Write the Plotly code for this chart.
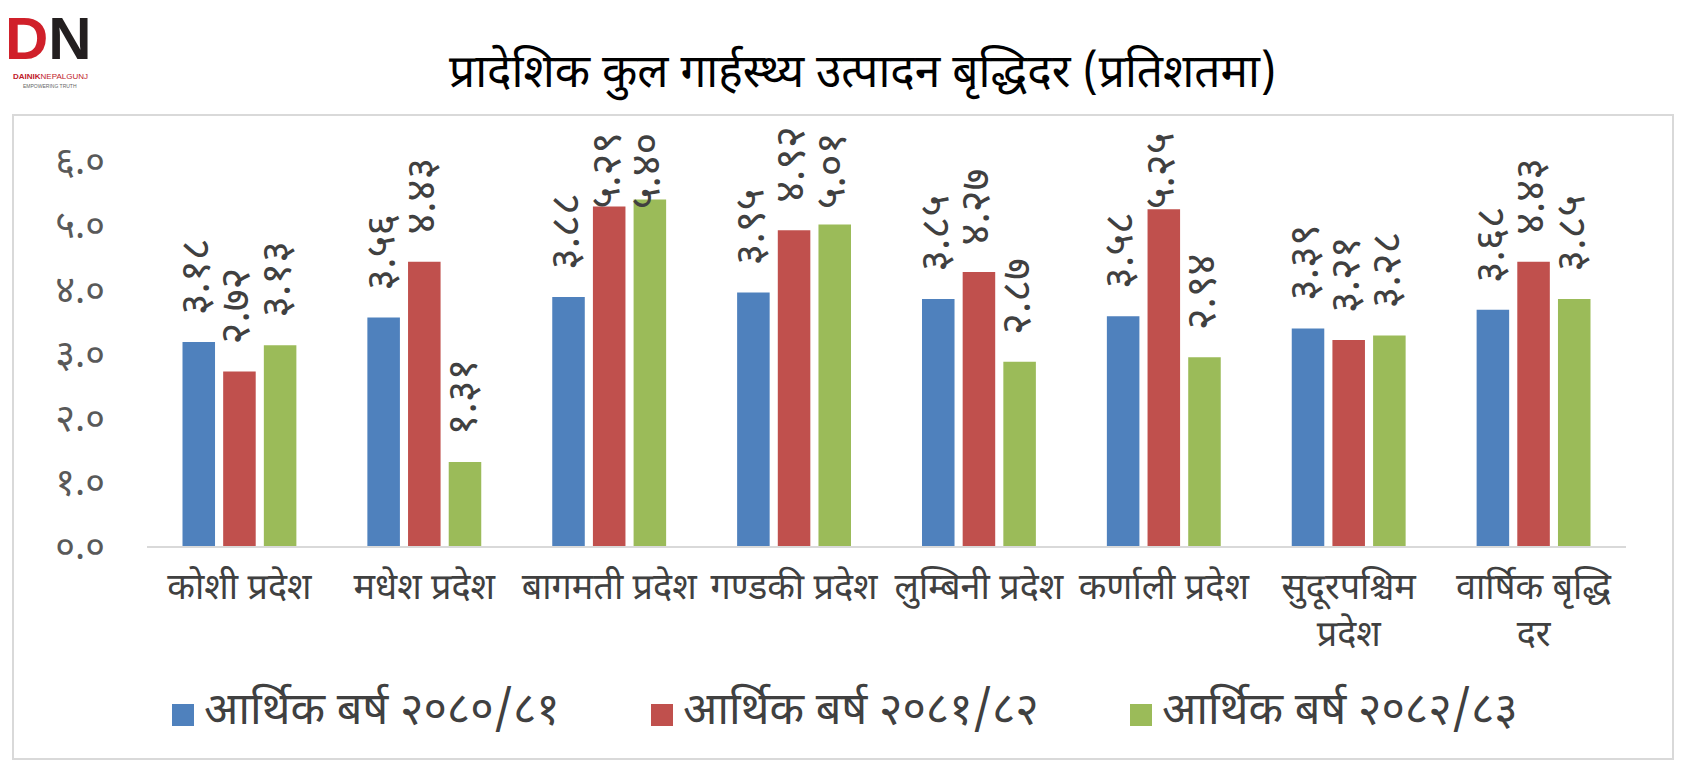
import plotly.graph_objects as go

categories = ["कोशी प्रदेश", "मधेश प्रदेश", "बागमती प्रदेश", "गण्डकी प्रदेश",
              "लुम्बिनी प्रदेश", "कर्णाली प्रदेश", "सुदूरपश्चिम<br>प्रदेश", "वार्षिक बृद्धि<br>दर"]
series_names = ["आर्थिक बर्ष २०८०/८१", "आर्थिक बर्ष २०८१/८२", "आर्थिक बर्ष २०८२/८३"]
fy_2080_81 = [3.18, 3.56, 3.88, 3.95, 3.85, 3.58, 3.39, 3.68]
fy_2081_82 = [2.72, 4.43, 5.29, 4.92, 4.27, 5.25, 3.21, 4.43]
fy_2082_83 = [3.13, 1.31, 5.40, 5.01, 2.87, 2.94, 3.28, 3.85]
tick_values = [0, 1, 2, 3, 4, 5, 6]
tick_labels = ["०.०", "१.०", "२.०", "३.०", "४.०", "५.०", "६.०"]
title_text = "प्रादेशिक कुल गार्हस्थ्य उत्पादन बृद्धिदर (प्रतिशतमा)"

colors = ["#4F81BD", "#C0504D", "#9BBB59"]
DEV = str.maketrans("0123456789", "०१२३४५६७८९")
FONT = "Noto Sans Devanagari, Noto Sans, sans-serif"

def dev(v):
    return f"{v:.2f}".translate(DEV)

W, H = 1685, 762
L, R, T, B = 147, 59, 161, 216
pw, ph = W - L - R, H - T - B
Y_MAX = 6.0
BARGAP, GROUPGAP = 0.34, 0.2
ppu = ph / Y_MAX                      # pixels per data unit
slot = (1 - BARGAP) * (pw / len(categories)) / 3

def px_x(x):
    return (x - L) / pw

def px_y(y):
    return (H - B - y) / ph

all_series = [fy_2080_81, fy_2081_82, fy_2082_83]

fig = go.Figure()
for name, vals, col in zip(series_names, all_series, colors):
    fig.add_trace(go.Bar(
        x=categories, y=vals, name=name, marker=dict(color=col, line=dict(width=0)),
        showlegend=False, hoverinfo="x+y+name",
    ))

# rotated value labels above each bar (kept inside the chart frame)
LABEL_GAP, LABEL_LEN, TOP_LIMIT = 25, 74, Y_MAX + 31 / ppu
for si, vals in enumerate(all_series):
    for cat, v in zip(categories, vals):
        bottom = v + LABEL_GAP / ppu
        if bottom + LABEL_LEN / ppu > TOP_LIMIT:
            kw = dict(yref="paper", y=TOP_LIMIT / Y_MAX, yanchor="top", yshift=0)
        else:
            kw = dict(yref="y", y=v, yanchor="bottom", yshift=LABEL_GAP)
        fig.add_annotation(x=cat, xref="x", xshift=(si - 1) * slot,
                           xanchor="center", text=dev(v), textangle=-90, showarrow=False,
                           font=dict(size=42, color="#404040", family=FONT), **kw)

fig.update_layout(
    width=W, height=H,
    margin=dict(l=L, r=R, t=T, b=B),
    paper_bgcolor="white", plot_bgcolor="white",
    barmode="group", bargap=BARGAP, bargroupgap=GROUPGAP,
    font=dict(family=FONT, color="#404040"),
    showlegend=False,
    xaxis=dict(showline=True, linecolor="#D9D9D9", linewidth=2, ticks="",
               tickfont=dict(size=36, color="#404040", family=FONT), showgrid=False,
               tickangle=0, ticklabelstandoff=8),
    yaxis=dict(range=[0, Y_MAX], tickvals=tick_values, ticktext=tick_labels, showgrid=False,
               zeroline=False, showline=False, ticks="", ticklabelstandoff=41,
               tickfont=dict(size=38, color="#595959", family=FONT)),
)

fig.add_shape(type="rect", xref="paper", yref="paper",
              x0=px_x(13), x1=px_x(1673), y0=px_y(759), y1=px_y(115),
              line=dict(color="#D9D9D9", width=2), fillcolor="rgba(0,0,0,0)", layer="below")

fig.add_annotation(text=title_text, xref="paper", yref="paper", x=px_x(862), y=px_y(75),
                   xanchor="center", yanchor="middle", showarrow=False,
                   font=dict(size=46, color="#000000", family=FONT))

# legend drawn as squares + text
legend_x = [172, 651, 1130]
legend_y = 715
sq = 22
for lx, name, col in zip(legend_x, series_names, colors):
    fig.add_shape(type="rect", xref="paper", yref="paper",
                  x0=px_x(lx), x1=px_x(lx + sq),
                  y0=px_y(legend_y + sq / 2), y1=px_y(legend_y - sq / 2),
                  line=dict(width=0), fillcolor=col)
    fig.add_annotation(text=name, xref="paper", yref="paper", x=px_x(lx + sq + 8),
                       y=px_y(legend_y - 3), xanchor="left", yanchor="middle", showarrow=False,
                       font=dict(size=45, color="#404040", family=FONT))

# logo approximation
fig.add_annotation(text="<span style='color:#D0202A'>D</span>N", xref="paper", yref="paper",
                   x=px_x(48), y=px_y(38), xanchor="center", yanchor="middle", showarrow=False,
                   font=dict(size=60, color="#231F20", family="Liberation Sans", weight="bold"))
fig.add_annotation(text="<b>DAINIK</b>NEPALGUNJ", xref="paper", yref="paper", x=px_x(50), y=px_y(77),
                   xanchor="center", yanchor="middle",
                   showarrow=False, font=dict(size=8, color="#C0202A", family="Liberation Sans"))
fig.add_annotation(text="EMPOWERING TRUTH", xref="paper", yref="paper", x=px_x(50), y=px_y(86),
                   xanchor="center", yanchor="middle",
                   showarrow=False, font=dict(size=5, color="#666666", family="Liberation Sans"))

fig.write_html("out.html")
